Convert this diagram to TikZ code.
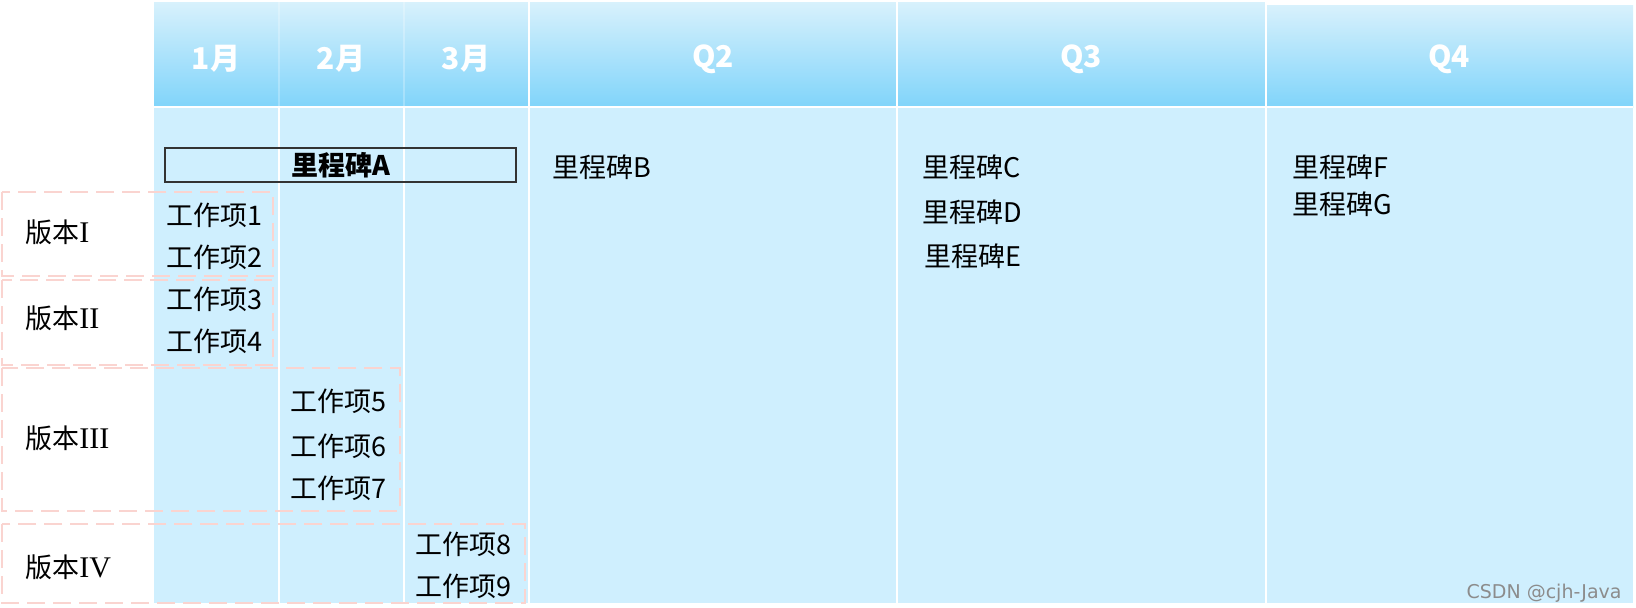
\documentclass[tikz,border=0pt]{standalone}
\usepackage{fontspec}
\setmainfont{Noto Sans CJK SC}
\newfontfamily\romanfont{Liberation Serif}
\newfontfamily\markfont{DejaVu Sans}
\usetikzlibrary{positioning}
\definecolor{bodyblue}{HTML}{CFEFFE}
\definecolor{headtop}{HTML}{D8F1FC}
\definecolor{headbot}{HTML}{80D4FA}
\definecolor{dashpink}{HTML}{FAD4D0}
\tikzset{
    head/.style={font=\fontsize{15}{17}\selectfont\bfseries, text=white, inner sep=0pt},
    item/.style={anchor=west, inner sep=0pt, font=\fontsize{13.5}{16}\selectfont},
    mile/.style={anchor=west, inner sep=0pt, font=\fontsize{13.5}{16}\selectfont},
    release/.style={draw=dashpink, line width=1.3pt, dash pattern=on 9pt off 4pt},
    verlabel/.style={anchor=west, inner sep=0pt, font=\fontsize{13.5}{16}\selectfont},
    colsep/.style={draw=white, line width=0.7pt}
}
\newcommand{\rnum}[1]{{\romanfont\fontsize{15}{16}\selectfont #1}}

\begin{document}
\begin{tikzpicture}[x=0.5pt, y=-0.5pt]
        \useasboundingbox (0,0) rectangle (1636,607);

        % Header and body
        \fill[bodyblue] (154,107) rectangle (1633,603);
        \shade[top color=headtop, bottom color=headbot] (154,2) rectangle (529,107);
        \shade[top color=headtop, bottom color=headbot] (529,2) rectangle (897,107);
        \shade[top color=headtop, bottom color=headbot] (897,2) rectangle (1266,107);
        \shade[top color=headtop, bottom color=headbot] (1266,5) rectangle (1633,107);
        \draw[colsep] (154,107) -- (1633,107);
        \foreach \x in {279,404,529,897,1266}
            \draw[colsep] (\x,107) -- (\x,603);
        \foreach \x in {529,897,1266}
            \draw[colsep] (\x,2) -- (\x,107);
        \foreach \x in {279,404}
            \draw[colsep, draw opacity=0.25] (\x,2) -- (\x,107);

        % Header labels
        \node[head] (m1) at (216,59) {1月};
        \node[head] (m2) at (341,59) {2月};
        \node[head] (m3) at (466,59) {3月};
        \node[head] (q2) at (713,59) {Q2};
        \node[head] (q3) at (1081,59) {Q3};
        \node[head] (q4) at (1449,59) {Q4};

        % Releases
        \draw[release] (2,192) rectangle (273,276);
        \draw[release] (2,280) rectangle (273,365);
        \draw[release] (2,368) rectangle (400,511);
        \draw[release] (2,524) rectangle (525,603);
        \node[verlabel] (v1) at (25,232) {版本\rnum{I}};
        \node[verlabel] (v2) at (25,318) {版本\rnum{II}};
        \node[verlabel] (v3) at (25,438) {版本\rnum{III}};
        \node[verlabel] (v4) at (25,567) {版本\rnum{IV}};

        % Milestones
        \node[draw=black!80, line width=0.6pt, minimum width=175.5pt, minimum height=17pt, inner sep=0pt,
              font=\fontsize{13.5}{16}\selectfont\bfseries] (msA) at (340.5,165) {里程碑A};
        \node[mile] (msB) at (552,167) {里程碑B};
        \node[mile] (msC) at (922,167) {里程碑C};
        \node[mile] (msD) at (922,212) {里程碑D};
        \node[mile] (msE) at (924,256) {里程碑E};
        \node[mile] (msF) at (1292,167) {里程碑F};
        \node[mile] (msG) at (1292,204) {里程碑G};

        % Work items
        \node[item] (w1) at (166,215) {工作项1};
        \node[item] (w2) at (166,257) {工作项2};
        \node[item] (w3) at (166,299) {工作项3};
        \node[item] (w4) at (166,341) {工作项4};
        \node[item] (w5) at (290,401) {工作项5};
        \node[item] (w6) at (290,446) {工作项6};
        \node[item] (w7) at (290,488) {工作项7};
        \node[item] (w8) at (415,544) {工作项8};
        \node[item] (w9) at (415,586) {工作项9};

        % Mark
        \node[anchor=east, inner sep=0pt, text=black!45, font=\markfont\fontsize{9.5}{11}\selectfont] (wm) at (1622,593) {CSDN @cjh-Java};

    \end{tikzpicture}
\end{document}
